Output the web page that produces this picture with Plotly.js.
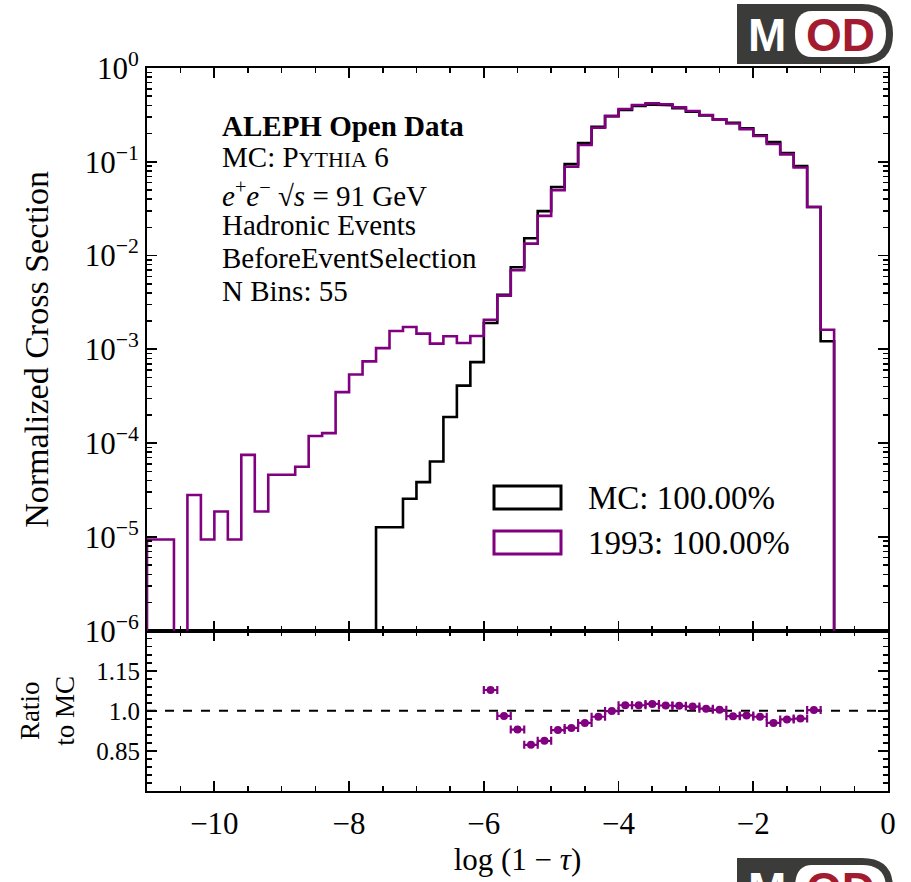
<!DOCTYPE html>
<html>
<head>
<meta charset="utf-8">
<script src="https://cdn.plot.ly/plotly-3.0.1.min.js"></script>
<style>html,body{margin:0;padding:0;background:#fff;}#chart{width:911px;height:882px;}</style>
</head>
<body>
<div id="chart"></div>
<script>
// ---- data ----
const binEdges = [-11.0,-10.8,-10.6,-10.4,-10.2,-10.0,-9.8,-9.6,-9.4,-9.2,-9.0,-8.8,-8.6,-8.4,-8.2,-8.0,-7.8,-7.6,-7.4,-7.2,-7.0,
  -6.8,-6.6,-6.4,-6.2,-6.0,-5.8,-5.6,-5.4,-5.2,-5.0,-4.8,-4.6,-4.4,-4.2,-4.0,-3.8,-3.6,-3.4,-3.2,-3.0,
  -2.8,-2.6,-2.4,-2.2,-2.0,-1.8,-1.6,-1.4,-1.2,-1.0,-0.8,-0.6,-0.4,-0.2,0.0];

const mcValues = [0,0,0,0,0,0,0,0,0,0,0,0,0,0,0,0,0,
  1.27e-5,1.27e-5,2.55e-5,3.84e-5,6.37e-5,1.9e-4,4.1e-4,7.3e-4,1.91e-3,
  3.82e-3,7.5e-3,1.53e-2,2.98e-2,5.38e-2,9.45e-2,0.158,0.236,0.307,0.357,
  0.395,0.409,0.402,0.373,0.342,0.312,0.282,0.261,0.227,0.192,
  0.162,0.124,0.090,0.033,1.22e-3,0,0,0,0];

const data1993Values = [9.4e-6,9.4e-6,0,2.8e-5,9.4e-6,1.87e-5,9.4e-6,7.5e-5,1.87e-5,4.6e-5,
  4.6e-5,5.6e-5,1.19e-4,1.28e-4,3.5e-4,5.4e-4,7.45e-4,1.03e-3,1.57e-3,1.73e-3,
  1.47e-3,1.15e-3,1.38e-3,1.17e-3,1.39e-3,2.07e-3,3.74e-3,6.97e-3,1.34e-2,2.65e-2,
  4.99e-2,8.85e-2,0.151,0.231,0.307,0.365,0.403,0.42,0.41,0.38,
  0.348,0.315,0.283,0.256,0.223,0.188,0.155,0.12,0.087,0.033,
  1.62e-3,0,0,0,0];

const ratioX = [-5.9,-5.7,-5.5,-5.3,-5.1,-4.9,-4.7,-4.5,-4.3,-4.1,-3.9,-3.7,-3.5,-3.3,-3.1,-2.9,-2.7,-2.5,-2.3,-2.1,-1.9,-1.7,-1.5,-1.3,-1.1,-0.9];
const ratioY = [1.078,0.981,0.930,0.873,0.888,0.928,0.936,0.955,0.978,0.999,1.021,1.021,1.026,1.020,1.019,1.016,1.008,1.004,0.980,0.983,0.978,0.955,0.968,0.971,1.003,1.31];
const ratioHalfWidth = [0.1,0.1,0.1,0.1,0.1,0.1,0.1,0.1,0.1,0.1,0.1,0.1,0.1,0.1,0.1,0.1,0.1,0.1,0.1,0.1,0.1,0.1,0.1,0.1,0.1,0.1];

const xTickVals = [-10,-8,-6,-4,-2,0];
const xTickText = ['\u221210','\u22128','\u22126','\u22124','\u22122','0'];
const yTickVals = [1e-6,1e-5,1e-4,1e-3,1e-2,1e-1,1];
const yTickText = ['10<sup>\u22126</sup>','10<sup>\u22125</sup>','10<sup>\u22124</sup>','10<sup>\u22123</sup>','10<sup>\u22122</sup>','10<sup>\u22121</sup>','10<sup>0</sup>'];
const ratioTickVals = [0.85,1.0,1.15];
const ratioTickText = ['0.85','1.0','1.15'];

const legendLabels = ['MC: 100.00%','1993: 100.00%'];
const infoLines = ['<b>ALEPH Open Data</b>',
  'MC: P<span style="font-size:22px">YTHIA</span> 6',
  '<i>e</i><sup>+</sup><i>e</i><sup>\u2212</sup> \u221A<i>s</i> = 91 GeV',
  'Hadronic Events','BeforeEventSelection','N Bins: 55'];
const infoLineY = [126, 157, 194, 225, 258, 291];

// ---- build step outlines (zero bins drop below the axis) ----
const FLOOR = 1e-12;
function stepPath(vals){
  const xs=[binEdges[0]], ys=[FLOOR];
  for(let i=0;i<vals.length;i++){
    const v = vals[i] > 0 ? vals[i] : FLOOR;
    xs.push(binEdges[i], binEdges[i+1]);
    ys.push(v, v);
  }
  xs.push(binEdges[binEdges.length-1]); ys.push(FLOOR);
  return {xs, ys};
}
const mcStep = stepPath(mcValues);
const dStep = stepPath(data1993Values);
const PURPLE = '#800080';

const traces = [
  {x: mcStep.xs, y: mcStep.ys, xaxis:'x2', yaxis:'y', type:'scatter', mode:'lines', name:'MC',
   line:{color:'black', width:2.6}, hoverinfo:'skip'},
  {x: dStep.xs, y: dStep.ys, xaxis:'x2', yaxis:'y', type:'scatter', mode:'lines', name:'1993',
   line:{color:PURPLE, width:2.6}, hoverinfo:'skip'},
  {x: ratioX, y: ratioY, xaxis:'x', yaxis:'y2', type:'scatter', mode:'markers', name:'Ratio',
   marker:{color:PURPLE, size:8},
   error_x:{type:'data', array: ratioHalfWidth, visible:true, color:PURPLE, thickness:2.2, width:4}}
];

// minor ticks for log axis
const yMinor = [];
for (let e=-6; e<0; e++) for (let d=2; d<=9; d++) yMinor.push(d*Math.pow(10,e));

const MAIN_BOTTOM = 0.2217;
const axCommon = {showline:true, linewidth:2, linecolor:'black', mirror:'allticks', showgrid:false, zeroline:false,
  ticks:'inside', ticklen:10, tickwidth:1.8, tickcolor:'black'};

const px2x = p => (p-147)/741;
const px2y = p => (791-p)/723;

const annotations = [];
infoLines.forEach((t,i)=>{
  annotations.push({xref:'paper', yref:'paper', x:px2x(220), y:px2y(infoLineY[i]), xanchor:'left', yanchor:'middle',
    text:t, showarrow:false, font:{size:29, family:'Liberation Serif', color:'black'}});
});
legendLabels.forEach((t,i)=>{
  annotations.push({xref:'paper', yref:'paper', x:px2x(586), y:px2y(498+i*45), xanchor:'left', yanchor:'middle',
    text:t, showarrow:false, font:{size:33, family:'Liberation Serif', color:'black'}});
});
// MOD logos
function logo(topPx){
  return [
    {type:'path', xref:'paper', yref:'paper', layer:'above',
     path:`M ${px2x(737)} ${px2y(topPx)} L ${px2x(862)} ${px2y(topPx)} Q ${px2x(893)} ${px2y(topPx)} ${px2x(893)} ${px2y(topPx+30)} Q ${px2x(893)} ${px2y(topPx+60)} ${px2x(862)} ${px2y(topPx+60)} L ${px2x(737)} ${px2y(topPx+60)} Z`,
     fillcolor:'#3b3b39', line:{width:0}},
    {type:'path', xref:'paper', yref:'paper', layer:'above',
     path:`M ${px2x(812)} ${px2y(topPx+7)} L ${px2x(862)} ${px2y(topPx+7)} Q ${px2x(886)} ${px2y(topPx+7)} ${px2x(886)} ${px2y(topPx+30)} Q ${px2x(886)} ${px2y(topPx+53)} ${px2x(862)} ${px2y(topPx+53)} L ${px2x(812)} ${px2y(topPx+53)} Q ${px2x(795)} ${px2y(topPx+53)} ${px2x(795)} ${px2y(topPx+30)} Q ${px2x(795)} ${px2y(topPx+7)} ${px2x(812)} ${px2y(topPx+7)} Z`,
     fillcolor:'white', line:{width:0}}
  ];
}
function logoText(topPx){
  return [
    {xref:'paper', yref:'paper', x:px2x(767), y:px2y(topPx+31), xanchor:'center', yanchor:'middle', showarrow:false,
     text:'<b>M</b>', font:{family:'Liberation Sans', size:46, color:'white'}},
    {xref:'paper', yref:'paper', x:px2x(840), y:px2y(topPx+31), xanchor:'center', yanchor:'middle', showarrow:false,
     text:'<b>OD</b>', font:{family:'Liberation Sans', size:46, color:'#a31b2e'}}
  ];
}
annotations.push(...logoText(4), ...logoText(858));

const shapes = [
  {type:'line', xref:'x', yref:'y2', x0:-11, x1:0, y0:1, y1:1, line:{color:'black', width:2, dash:'dash'}, layer:'below'},
  {type:'rect', xref:'paper', yref:'paper', x0:px2x(494), x1:px2x(561), y0:px2y(486), y1:px2y(509), line:{color:'black', width:3}, fillcolor:'rgba(0,0,0,0)'},
  {type:'rect', xref:'paper', yref:'paper', x0:px2x(494), x1:px2x(561), y0:px2y(531), y1:px2y(554), line:{color:PURPLE, width:3}, fillcolor:'rgba(0,0,0,0)'},
  ...logo(4), ...logo(858)
];

const layout = {
  width:911, height:882,
  margin:{l:147, r:23, t:68, b:91, pad:0},
  paper_bgcolor:'white', plot_bgcolor:'white',
  font:{family:'Liberation Serif', size:30, color:'black'},
  showlegend:false,
  xaxis:Object.assign({}, axCommon, {anchor:'y2', domain:[0,1], range:[-11,0], tickvals:xTickVals, ticktext:xTickText,
    tickfont:{size:31}, ticklabelstandoff:4,
    minor:{dtick:0.5, tick0:0, ticks:'inside', ticklen:5, tickwidth:1.5, tickcolor:'black', showgrid:false},
    title:{text:'log (1 \u2212 <i>\u03C4</i>)', font:{size:31}, standoff:8}}),
  xaxis2:Object.assign({}, axCommon, {anchor:'y', domain:[0,1], matches:'x', range:[-11,0], tickvals:xTickVals, showticklabels:false,
    minor:{dtick:0.5, tick0:0, ticks:'inside', ticklen:5, tickwidth:1.5, tickcolor:'black', showgrid:false}}),
  yaxis:Object.assign({}, axCommon, {domain:[MAIN_BOTTOM,1], type:'log', range:[-6,0], tickvals:yTickVals, ticktext:yTickText,
    tickfont:{size:31}, minor:{tickvals:yMinor, ticks:'inside', ticklen:5, tickwidth:1.5, tickcolor:'black', showgrid:false},
    title:{text:'Normalized Cross Section', font:{size:34}, standoff:26}}),
  yaxis2:Object.assign({}, axCommon, {domain:[0,MAIN_BOTTOM], range:[0.7,1.3], tickvals:ratioTickVals, ticktext:ratioTickText,
    tickfont:{size:25}, minor:{dtick:0.03, tick0:0.85, ticks:'inside', ticklen:5, tickwidth:1.5, tickcolor:'black', showgrid:false},
    title:{text:'Ratio<br>to MC', font:{size:27}, standoff:14}}),
  annotations, shapes
};

Plotly.newPlot('chart', traces, layout, {staticPlot:true, displayModeBar:false});
</script>
</body>
</html>
